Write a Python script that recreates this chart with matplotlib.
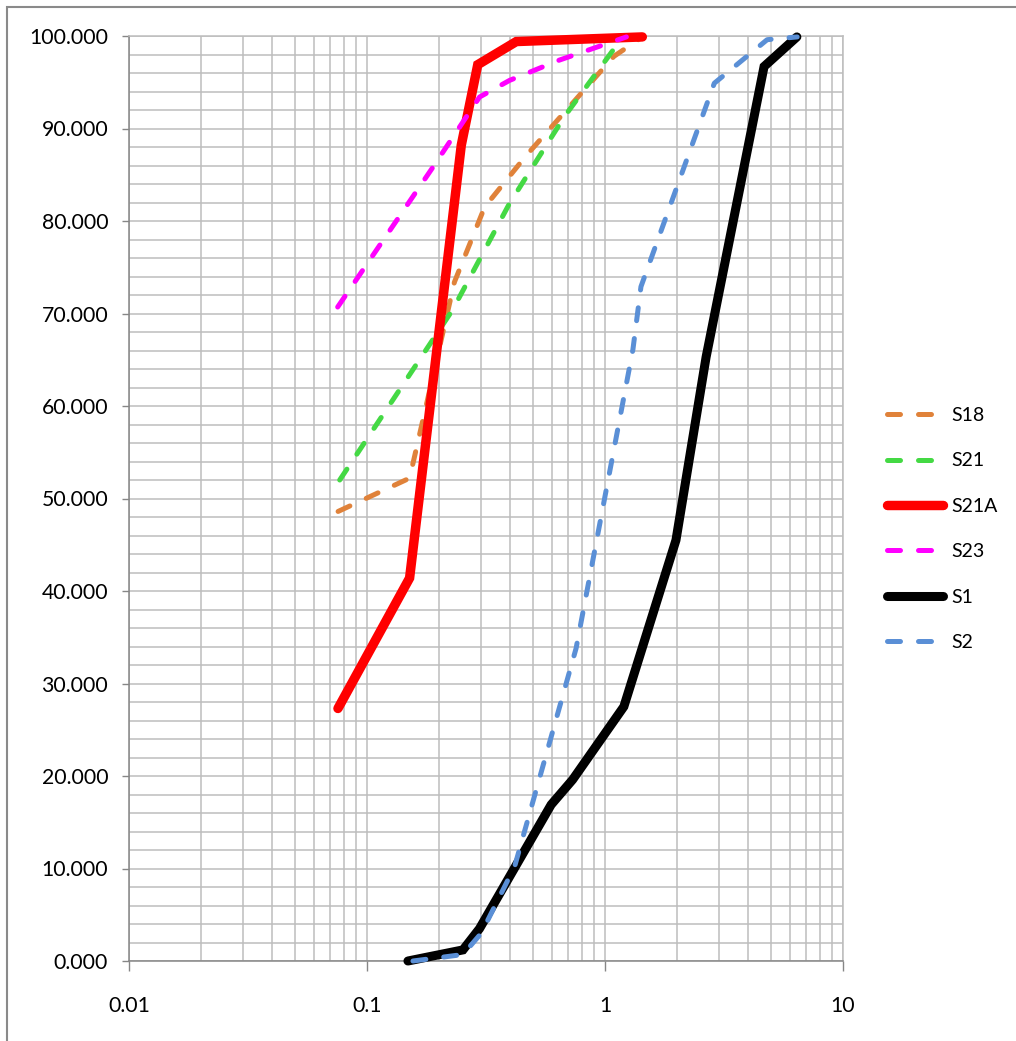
import numpy as np
import matplotlib
matplotlib.use("Agg")
import matplotlib.pyplot as plt
from matplotlib.ticker import MultipleLocator, LogLocator, NullFormatter, FixedLocator, FixedFormatter
from matplotlib.patches import Rectangle

plt.rcParams['font.family'] = ['Lato', 'DejaVu Sans']

# grain size (x, log scale) vs cumulative percent (y)
s18_x = [0.0756, 0.151, 0.233, 0.312, 0.464, 1.09, 1.435]
s18_y = [48.6, 52.2, 73.4, 81.5, 87.0, 97.8, 99.9]

s21_x = [0.0768, 0.229, 0.397, 0.676, 1.149, 1.18]
s21_y = [52.0, 70.4, 81.9, 91.3, 99.4, 99.9]

s21a_x = [0.0755, 0.151, 0.249, 0.292, 0.424, 1.435]
s21a_y = [27.3, 41.4, 88.2, 96.9, 99.4, 99.9]

s23_x = [0.0753, 0.189, 0.297, 0.397, 0.644, 1.23]
s23_y = [70.7, 85.8, 93.4, 95.2, 97.4, 99.9]

s1_x = [0.1486, 0.253, 0.297, 0.594, 0.731, 1.2, 1.987, 2.66, 4.66, 6.4]
s1_y = [0.0, 1.2, 3.5, 16.9, 19.6, 27.5, 45.5, 65.3, 96.7, 99.9]

s2_x = [0.156, 0.253, 0.302, 0.417, 0.756, 1.31, 1.416, 2.88, 4.8, 6.42]
s2_y = [0.0, 0.7, 3.0, 10.2, 33.8, 66.1, 72.9, 94.9, 99.6, 99.9]

x_ticks = [0.01, 0.1, 1, 10]
x_tick_labels = ['0.01', '0.1', '1', '10']
y_ticks = [0, 10, 20, 30, 40, 50, 60, 70, 80, 90, 100]

DASH = (2.6, 3.6)
GRID = '#bdbdbd'

fig = plt.figure(figsize=(10.16, 10.41), dpi=100)
ax = fig.add_axes([129 / 1016, 1 - 961 / 1041, (843 - 129) / 1016, (961 - 36) / 1041])

series = [
    (s18_x, s18_y, 'S18', '#e0823a', 3.6, True),
    (s21_x, s21_y, 'S21', '#44d944', 3.6, True),
    (s21a_x, s21a_y, 'S21A', '#ff0000', 6.8, False),
    (s23_x, s23_y, 'S23', '#ff00ff', 3.6, True),
    (s1_x, s1_y, 'S1', '#000000', 6.5, False),
    (s2_x, s2_y, 'S2', '#5a8fd6', 3.6, True),
]
for xs, ys, name, col, lw, dashed in series:
    line, = ax.plot(xs, ys, color=col, lw=lw, label=name,
                    solid_capstyle='round', dash_capstyle='round',
                    solid_joinstyle='miter', clip_on=False, zorder=3)
    if dashed:
        line.set_dashes(DASH)

ax.set_xscale('log')
ax.set_xlim(0.01, 10)
ax.set_ylim(0, 100)

ax.xaxis.set_major_locator(FixedLocator(x_ticks))
ax.xaxis.set_major_formatter(FixedFormatter(x_tick_labels))
ax.xaxis.set_minor_locator(LogLocator(base=10, subs=np.arange(2, 10)))
ax.xaxis.set_minor_formatter(NullFormatter())
ax.set_yticks(y_ticks)
ax.set_yticklabels(['%.3f' % v for v in y_ticks])
ax.yaxis.set_minor_locator(MultipleLocator(2))

ax.grid(True, which='both', color=GRID, lw=1.1)
ax.set_axisbelow(True)
ax.tick_params(which='minor', length=0)
ax.tick_params(axis='y', which='major', length=5, width=1, color='#868686',
               labelsize=15.3, pad=10)
ax.tick_params(axis='x', which='major', length=7, width=1, color='#868686',
               labelsize=15.3, pad=18.5)

for side in ['top', 'right']:
    ax.spines[side].set_color(GRID)
    ax.spines[side].set_linewidth(1.1)
for side in ['left', 'bottom']:
    ax.spines[side].set_color('#868686')
    ax.spines[side].set_linewidth(1.1)

leg = fig.legend(loc='upper left', bbox_to_anchor=(887 / 1016, 1 - 407 / 1041),
                 frameon=False, fontsize=14, handlelength=2.88, handletextpad=0.41,
                 labelspacing=1.46, borderpad=0, borderaxespad=0)

# chart area border (only left and top edges fall inside the picture)
fig.patches.append(Rectangle((7 / 1016, -0.5), 2, 0.5 + 1 - 7 / 1041, fill=False,
                             edgecolor='#8a8a8a', lw=1.5, transform=fig.transFigure))

plt.savefig('out.png', dpi=100)
